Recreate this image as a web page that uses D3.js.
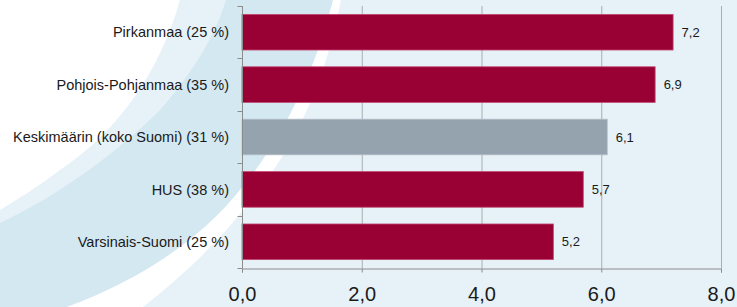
<!DOCTYPE html>
<html>
<head>
<meta charset="utf-8">
<script src="https://cdn.jsdelivr.net/npm/d3@7"></script>
<style>
  html, body { margin: 0; padding: 0; background: #ffffff; }
  svg { display: block; font-family: "Liberation Sans", Arial, sans-serif; }
</style>
</head>
<body>
<div id="chart"></div>
<script>
// data
var categories = ["Pirkanmaa (25 %)", "Pohjois-Pohjanmaa (35 %)", "Keskimäärin (koko Suomi) (31 %)", "HUS (38 %)", "Varsinais-Suomi (25 %)"];
var values = [7.2, 6.9, 6.1, 5.7, 5.2];
var isAverage = [false, false, true, false, false];
var xTicks = [0, 2, 4, 6, 8];

var w = 737, h = 307;
var fmt = function(v) { return d3.format(".1f")(v).replace(".", ","); };

var svg = d3.select("#chart").append("svg")
    .attr("width", w)
    .attr("height", h);

// background swooshes
svg.append("rect").attr("width", w).attr("height", h).attr("fill", "#e6f2f8");
// darker band
svg.append("path")
    .attr("fill", "#d4e8f1")
    .attr("d", "M226,0 L333,0 C318,60 290,130 240,190 C200,240 140,280 67,307 L0,307 L0,223 C60,195 120,150 160,110 C195,70 215,35 226,0 Z");
// white stripe
svg.append("path")
    .attr("fill", "#ffffff")
    .attr("d", "M333,0 L341,0 C328,70 300,140 255,195 C225,235 190,270 143,307 L67,307 C140,280 200,240 240,190 C290,130 318,60 333,0 Z");
// white top-left corner
svg.append("path")
    .attr("fill", "#ffffff")
    .attr("d", "M0,0 L180,0 C160,70 120,130 60,170 C40,185 20,198 0,210 Z");

var x = d3.scaleLinear().domain([0, 8]).range([242, 721]);
var y = d3.scaleBand().domain(categories).range([6, 268]).paddingInner(0.32).paddingOuter(0.16);

// gridlines
svg.append("g").selectAll("line")
    .data(xTicks.slice(1))
    .enter().append("line")
    .attr("x1", function(d) { return x(d) + 0.5; })
    .attr("x2", function(d) { return x(d) + 0.5; })
    .attr("y1", 6).attr("y2", 268)
    .attr("stroke", "#a9adb0").attr("stroke-width", 1);

// bars
svg.append("g").selectAll("rect")
    .data(values)
    .enter().append("rect")
    .attr("x", x(0))
    .attr("y", function(d, i) { return y(categories[i]); })
    .attr("width", function(d) { return x(d) - x(0); })
    .attr("height", y.bandwidth())
    .attr("fill", function(d, i) { return isAverage[i] ? "#95a3ae" : "#990033"; })
    .attr("stroke", function(d, i) { return isAverage[i] ? "#b4bec6" : "#c24a72"; })
    .attr("stroke-width", 0.8);

// value labels
svg.append("g").selectAll("text")
    .data(values)
    .enter().append("text")
    .attr("x", function(d) { return x(d) + 8.5; })
    .attr("y", function(d, i) { return y(categories[i]) + y.bandwidth() / 2; })
    .attr("dy", "0.36em")
    .attr("font-size", "13px")
    .attr("fill", "#1a1a1a")
    .text(fmt);

// y axis
var yAxis = svg.append("g").attr("transform", "translate(242.5,0)");
yAxis.append("line").attr("y1", 6).attr("y2", 268).attr("stroke", "#8c8c8c");
var yBounds = categories.map(function(c) { return y(c) - y.step() * 0.16; }).concat([268]);
yAxis.selectAll("line.tk")
    .data(yBounds)
    .enter().append("line").attr("class", "tk")
    .attr("x1", -5).attr("x2", 0)
    .attr("y1", function(d) { return Math.round(d) + 0.5; })
    .attr("y2", function(d) { return Math.round(d) + 0.5; })
    .attr("stroke", "#8c8c8c");
svg.append("g").selectAll("text")
    .data(categories)
    .enter().append("text")
    .attr("x", 229)
    .attr("y", function(d) { return y(d) + y.bandwidth() / 2; })
    .attr("dy", "0.36em")
    .attr("text-anchor", "end")
    .attr("font-size", "14.5px")
    .attr("fill", "#1a1a1a")
    .text(function(d) { return d; });

// x axis
var xAxis = svg.append("g")
    .attr("transform", "translate(0,268.5)")
    .call(d3.axisBottom(x).tickValues(xTicks).tickFormat(fmt).tickSize(4).tickPadding(14));
xAxis.select(".domain").attr("stroke", "#8c8c8c");
xAxis.selectAll(".tick line").attr("stroke", "#8c8c8c");
xAxis.selectAll(".tick text")
    .attr("font-size", "20px")
    .attr("font-family", "Liberation Sans, Arial, sans-serif")
    .attr("fill", "#1a1a1a");
</script>
</body>
</html>
